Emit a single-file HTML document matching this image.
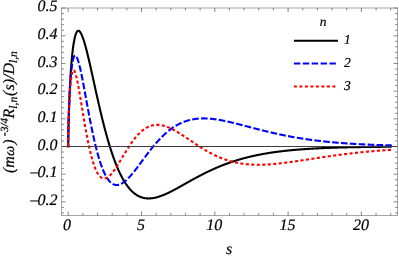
<!DOCTYPE html>
<html><head><meta charset="utf-8"><style>
html,body{margin:0;padding:0;background:#fff;}
svg{display:block;font-family:"Liberation Serif",serif;font-style:italic;text-rendering:geometricPrecision;}
svg{will-change:transform;}
text{stroke:#000;stroke-width:0.2px;}
</style></head><body>
<svg width="399" height="258" viewBox="0 0 399 258">
<rect width="399" height="258" fill="#fff"/>
<g fill="none" stroke-linejoin="round">
<path d="M68.20 146.50 L68.21 144.39 L68.22 143.15 L68.23 142.11 L68.24 141.17 L68.25 140.32 L68.26 139.52 L68.27 138.76 L68.28 138.05 L68.29 137.36 L68.30 136.69 L68.31 136.05 L68.32 135.43 L68.33 134.83 L68.34 134.24 L68.35 133.67 L68.36 133.11 L68.37 132.56 L68.38 132.03 L68.39 131.50 L68.40 130.99 L68.41 130.48 L68.42 129.99 L68.43 129.50 L68.44 129.02 L68.45 128.54 L68.46 128.07 L68.47 127.61 L68.48 127.16 L68.49 126.71 L68.57 123.66 L68.64 120.84 L68.71 118.19 L68.78 115.70 L68.85 113.33 L68.93 111.07 L69.00 108.90 L69.07 106.83 L69.14 104.83 L69.22 102.90 L69.29 101.04 L69.36 99.24 L69.43 97.50 L69.50 95.81 L69.58 94.17 L69.65 92.57 L69.72 91.02 L69.79 89.52 L69.86 88.05 L69.94 86.62 L70.01 85.22 L70.08 83.86 L70.15 82.54 L70.23 81.24 L70.30 79.98 L70.37 78.75 L70.44 77.54 L70.51 76.36 L70.59 75.21 L70.66 74.09 L70.73 72.99 L70.80 71.91 L70.88 70.86 L70.95 69.83 L71.02 68.82 L71.09 67.84 L71.16 66.87 L71.24 65.93 L71.31 65.00 L71.38 64.10 L71.45 63.21 L71.53 62.34 L71.60 61.50 L71.67 60.66 L71.74 59.85 L71.81 59.05 L71.89 58.27 L71.96 57.51 L72.03 56.76 L72.10 56.02 L72.18 55.31 L72.25 54.60 L72.32 53.92 L72.39 53.24 L72.46 52.58 L72.54 51.94 L72.61 51.30 L72.68 50.69 L72.75 50.08 L72.82 49.49 L72.90 48.91 L72.97 48.34 L73.04 47.78 L73.11 47.24 L73.19 46.71 L73.26 46.19 L73.33 45.68 L73.40 45.18 L73.47 44.70 L73.55 44.22 L73.62 43.76 L73.69 43.30 L73.76 42.86 L73.84 42.42 L73.91 42.00 L73.98 41.59 L74.05 41.18 L74.12 40.79 L74.20 40.41 L74.27 40.03 L74.34 39.67 L74.41 39.31 L74.49 38.96 L74.56 38.62 L74.63 38.29 L74.70 37.97 L74.77 37.66 L74.85 37.35 L74.92 37.06 L74.99 36.77 L75.06 36.49 L75.14 36.22 L75.21 35.95 L75.28 35.70 L75.35 35.45 L75.42 35.21 L75.50 34.97 L75.57 34.75 L75.64 34.53 L75.71 34.31 L75.78 34.11 L75.86 33.91 L75.93 33.72 L76.00 33.53 L76.07 33.36 L76.15 33.19 L76.22 33.02 L76.29 32.86 L76.36 32.71 L76.43 32.57 L76.51 32.43 L76.58 32.29 L76.65 32.17 L76.72 32.04 L76.80 31.93 L76.87 31.82 L76.94 31.72 L77.01 31.62 L77.08 31.53 L77.16 31.44 L77.23 31.36 L77.30 31.28 L77.37 31.21 L77.45 31.15 L77.52 31.09 L77.59 31.03 L77.66 30.98 L77.73 30.94 L77.81 30.90 L77.88 30.87 L77.95 30.84 L78.02 30.81 L78.10 30.79 L78.17 30.78 L78.24 30.77 L78.31 30.76 L78.38 30.76 L78.46 30.76 L78.53 30.77 L78.60 30.78 L78.67 30.80 L78.74 30.82 L78.82 30.84 L78.89 30.87 L78.96 30.91 L79.03 30.94 L79.11 30.99 L79.18 31.03 L79.25 31.08 L79.32 31.13 L79.39 31.19 L79.47 31.25 L79.54 31.32 L79.61 31.39 L79.68 31.46 L79.76 31.53 L79.83 31.61 L79.90 31.70 L79.97 31.78 L80.04 31.87 L80.12 31.97 L80.19 32.06 L80.26 32.16 L80.33 32.27 L80.41 32.38 L80.48 32.49 L80.55 32.60 L80.62 32.72 L80.69 32.84 L80.77 32.96 L80.84 33.08 L80.91 33.21 L80.98 33.35 L81.06 33.48 L81.13 33.62 L81.20 33.76 L81.27 33.90 L81.34 34.05 L81.42 34.20 L81.49 34.35 L81.56 34.51 L81.63 34.66 L81.70 34.82 L81.78 34.99 L81.85 35.15 L81.92 35.32 L81.99 35.49 L82.07 35.66 L82.14 35.84 L82.21 36.02 L82.28 36.20 L82.35 36.38 L82.43 36.57 L82.50 36.76 L82.57 36.95 L82.64 37.14 L82.72 37.33 L82.79 37.53 L82.86 37.73 L83.20 38.70 L83.55 39.73 L83.89 40.79 L84.23 41.90 L84.58 43.05 L84.92 44.23 L85.27 45.45 L85.61 46.70 L85.95 47.98 L86.30 49.29 L86.64 50.62 L86.98 51.98 L87.33 53.36 L87.67 54.76 L88.01 56.19 L88.36 57.63 L88.70 59.08 L89.04 60.55 L89.39 62.04 L89.73 63.54 L90.08 65.05 L90.42 66.56 L90.76 68.09 L91.11 69.63 L91.45 71.17 L91.79 72.72 L92.14 74.27 L92.48 75.82 L92.82 77.38 L93.17 78.94 L93.51 80.50 L93.85 82.07 L94.20 83.63 L94.54 85.19 L94.89 86.75 L95.23 88.31 L95.57 89.86 L95.92 91.41 L96.26 92.96 L96.60 94.50 L96.95 96.03 L97.29 97.56 L97.63 99.09 L97.98 100.60 L98.32 102.11 L98.67 103.61 L99.01 105.11 L99.35 106.59 L99.70 108.07 L100.04 109.54 L100.38 110.99 L100.73 112.44 L101.07 113.88 L101.41 115.31 L101.76 116.72 L102.10 118.13 L102.44 119.52 L102.79 120.91 L103.13 122.28 L103.48 123.64 L103.82 124.99 L104.16 126.32 L104.51 127.65 L104.85 128.96 L105.19 130.26 L105.54 131.54 L105.88 132.81 L106.22 134.07 L106.57 135.32 L106.91 136.55 L107.25 137.77 L107.60 138.98 L107.94 140.17 L108.29 141.35 L108.63 142.52 L108.97 143.67 L109.32 144.81 L109.66 145.93 L110.00 147.05 L110.35 148.14 L110.69 149.23 L111.03 150.30 L111.38 151.35 L111.72 152.39 L112.07 153.42 L112.41 154.44 L112.75 155.44 L113.10 156.43 L113.44 157.40 L113.78 158.36 L114.13 159.31 L114.47 160.24 L114.81 161.16 L115.16 162.06 L115.50 162.95 L115.84 163.83 L116.19 164.70 L116.53 165.55 L116.88 166.39 L117.22 167.21 L117.56 168.02 L117.91 168.82 L118.25 169.61 L118.59 170.38 L118.94 171.14 L119.28 171.88 L119.62 172.62 L119.97 173.34 L120.31 174.05 L120.65 174.74 L121.00 175.43 L121.34 176.10 L121.69 176.76 L122.03 177.40 L122.37 178.04 L122.72 178.66 L123.06 179.27 L123.40 179.87 L123.75 180.46 L124.09 181.04 L124.43 181.60 L124.78 182.15 L125.12 182.69 L125.46 183.22 L125.81 183.74 L126.15 184.25 L126.50 184.75 L126.84 185.23 L127.18 185.71 L127.53 186.17 L127.87 186.63 L128.21 187.07 L128.56 187.51 L128.90 187.93 L129.24 188.34 L129.59 188.74 L129.93 189.14 L130.28 189.52 L130.62 189.90 L130.96 190.26 L131.31 190.61 L131.65 190.96 L131.99 191.30 L132.34 191.62 L132.68 191.94 L133.02 192.25 L133.37 192.55 L133.71 192.84 L134.05 193.12 L134.40 193.39 L134.74 193.66 L135.09 193.92 L135.43 194.17 L135.77 194.41 L136.12 194.64 L136.46 194.86 L136.80 195.08 L137.15 195.29 L137.49 195.49 L137.83 195.68 L138.18 195.87 L138.52 196.05 L138.86 196.22 L139.21 196.38 L139.55 196.54 L139.90 196.69 L140.24 196.83 L140.58 196.97 L140.93 197.10 L141.27 197.22 L141.61 197.34 L141.96 197.45 L142.30 197.55 L142.64 197.65 L142.99 197.74 L143.33 197.83 L143.68 197.91 L144.02 197.98 L144.36 198.05 L144.71 198.11 L145.05 198.17 L145.39 198.22 L145.74 198.26 L146.08 198.30 L146.42 198.34 L146.77 198.36 L147.11 198.39 L147.45 198.41 L147.80 198.42 L148.14 198.43 L148.49 198.44 L148.83 198.44 L149.17 198.43 L149.52 198.42 L149.86 198.41 L150.20 198.39 L150.55 198.37 L150.89 198.34 L151.23 198.31 L151.58 198.27 L151.92 198.23 L152.26 198.19 L152.61 198.14 L152.95 198.09 L153.30 198.03 L153.64 197.97 L153.98 197.91 L154.33 197.85 L154.67 197.78 L155.01 197.70 L155.36 197.63 L155.70 197.55 L156.04 197.46 L156.39 197.38 L156.73 197.29 L157.08 197.19 L157.42 197.10 L157.76 197.00 L158.11 196.90 L158.45 196.80 L158.79 196.69 L159.14 196.58 L159.48 196.47 L159.82 196.35 L160.17 196.23 L160.51 196.11 L160.85 195.99 L161.20 195.87 L161.54 195.74 L161.89 195.61 L162.23 195.48 L162.57 195.34 L162.92 195.21 L163.26 195.07 L163.60 194.93 L163.95 194.79 L164.29 194.64 L164.63 194.50 L164.98 194.35 L165.32 194.20 L165.66 194.05 L166.01 193.89 L166.35 193.74 L166.70 193.58 L167.04 193.43 L167.38 193.27 L167.73 193.11 L168.07 192.94 L168.41 192.78 L168.76 192.61 L169.10 192.45 L169.44 192.28 L169.79 192.11 L170.13 191.94 L170.48 191.77 L170.82 191.60 L171.16 191.42 L171.51 191.25 L171.85 191.07 L172.19 190.89 L172.54 190.72 L172.88 190.54 L173.22 190.36 L173.57 190.18 L173.91 190.00 L174.25 189.81 L174.60 189.63 L174.94 189.45 L175.29 189.26 L175.63 189.08 L175.97 188.89 L176.32 188.71 L176.66 188.52 L177.00 188.33 L177.35 188.14 L177.69 187.96 L178.03 187.77 L178.38 187.58 L178.72 187.39 L179.06 187.20 L179.41 187.01 L179.75 186.82 L180.10 186.62 L180.44 186.43 L180.78 186.24 L181.13 186.05 L181.47 185.86 L181.81 185.66 L182.16 185.47 L182.50 185.28 L182.84 185.08 L183.19 184.89 L183.53 184.70 L183.88 184.50 L184.22 184.31 L184.56 184.12 L184.91 183.92 L185.25 183.73 L185.59 183.54 L185.94 183.34 L186.28 183.15 L186.62 182.96 L186.97 182.76 L187.31 182.57 L187.65 182.38 L188.00 182.19 L188.34 181.99 L188.69 181.80 L189.03 181.61 L189.37 181.42 L189.72 181.22 L190.06 181.03 L190.40 180.84 L190.75 180.65 L191.09 180.46 L191.43 180.27 L191.78 180.08 L192.12 179.89 L192.46 179.70 L192.81 179.51 L193.15 179.32 L193.50 179.13 L193.84 178.94 L194.18 178.76 L194.53 178.57 L194.87 178.38 L195.21 178.19 L195.56 178.01 L195.90 177.82 L196.24 177.64 L196.59 177.45 L196.93 177.27 L197.28 177.08 L197.62 176.90 L197.96 176.72 L198.31 176.54 L198.65 176.35 L198.99 176.17 L199.34 175.99 L199.68 175.81 L200.02 175.63 L200.37 175.45 L200.71 175.27 L201.05 175.09 L201.40 174.92 L201.74 174.74 L202.09 174.56 L202.43 174.39 L202.77 174.21 L203.12 174.04 L203.46 173.86 L203.80 173.69 L204.15 173.52 L204.49 173.35 L204.83 173.17 L205.18 173.00 L205.52 172.83 L205.86 172.66 L206.21 172.49 L206.55 172.33 L206.90 172.16 L207.24 171.99 L207.58 171.83 L207.93 171.66 L208.27 171.50 L208.61 171.33 L208.96 171.17 L209.30 171.00 L209.64 170.84 L209.99 170.68 L210.33 170.52 L210.67 170.36 L211.02 170.20 L211.36 170.04 L211.71 169.88 L212.05 169.73 L212.39 169.57 L212.74 169.41 L213.08 169.26 L213.42 169.10 L213.77 168.95 L214.11 168.80 L214.45 168.65 L214.80 168.49 L215.14 168.34 L215.49 168.19 L215.83 168.04 L216.17 167.90 L216.52 167.75 L216.86 167.60 L217.20 167.45 L217.55 167.31 L217.89 167.16 L218.23 167.02 L218.58 166.87 L218.92 166.73 L219.26 166.59 L219.61 166.45 L219.95 166.31 L220.30 166.17 L220.64 166.03 L220.98 165.89 L221.33 165.75 L221.67 165.62 L222.01 165.48 L222.36 165.34 L222.70 165.21 L223.04 165.08 L223.39 164.94 L223.73 164.81 L224.07 164.68 L224.42 164.55 L224.76 164.42 L225.11 164.29 L225.45 164.16 L225.79 164.03 L226.14 163.90 L226.48 163.77 L226.82 163.65 L227.17 163.52 L227.51 163.40 L227.85 163.27 L228.20 163.15 L228.54 163.03 L228.89 162.91 L229.23 162.79 L229.57 162.67 L229.92 162.55 L230.26 162.43 L230.60 162.31 L230.95 162.19 L231.29 162.07 L231.63 161.96 L231.98 161.84 L232.32 161.73 L232.66 161.61 L233.01 161.50 L233.35 161.39 L233.70 161.28 L234.04 161.17 L234.38 161.05 L234.73 160.94 L235.07 160.84 L235.41 160.73 L235.76 160.62 L236.10 160.51 L236.44 160.41 L236.79 160.30 L237.13 160.19 L237.47 160.09 L237.82 159.99 L238.16 159.88 L238.51 159.78 L238.85 159.68 L239.19 159.58 L239.54 159.48 L239.88 159.38 L240.22 159.28 L240.57 159.18 L240.91 159.08 L241.25 158.98 L241.60 158.89 L241.94 158.79 L242.29 158.69 L242.63 158.60 L242.97 158.51 L243.32 158.41 L243.66 158.32 L244.00 158.23 L244.35 158.14 L244.69 158.04 L245.03 157.95 L245.38 157.86 L245.72 157.77 L246.06 157.69 L246.41 157.60 L246.75 157.51 L247.10 157.42 L247.44 157.34 L247.78 157.25 L248.13 157.17 L248.47 157.08 L248.81 157.00 L249.16 156.91 L249.50 156.83 L249.84 156.75 L250.19 156.67 L250.53 156.59 L250.87 156.51 L251.22 156.43 L251.56 156.35 L251.91 156.27 L252.25 156.19 L252.59 156.11 L252.94 156.03 L253.28 155.96 L253.62 155.88 L253.97 155.81 L254.31 155.73 L254.65 155.66 L255.00 155.58 L255.34 155.51 L255.69 155.44 L256.03 155.36 L256.37 155.29 L256.72 155.22 L257.06 155.15 L257.40 155.08 L257.75 155.01 L258.09 154.94 L258.43 154.87 L258.78 154.80 L259.12 154.73 L259.46 154.67 L259.81 154.60 L260.15 154.53 L260.50 154.47 L260.84 154.40 L261.18 154.34 L261.53 154.27 L261.87 154.21 L262.21 154.15 L262.56 154.08 L262.90 154.02 L263.24 153.96 L263.59 153.90 L263.93 153.83 L264.27 153.77 L264.62 153.71 L264.96 153.65 L265.31 153.59 L265.65 153.54 L265.99 153.48 L266.34 153.42 L266.68 153.36 L267.02 153.30 L267.37 153.25 L267.71 153.19 L268.05 153.14 L268.40 153.08 L268.74 153.02 L269.09 152.97 L269.43 152.92 L269.77 152.86 L270.12 152.81 L270.46 152.76 L270.80 152.70 L271.15 152.65 L271.49 152.60 L271.83 152.55 L272.18 152.50 L272.52 152.45 L272.86 152.40 L273.21 152.35 L273.55 152.30 L273.90 152.25 L274.24 152.20 L274.58 152.15 L274.93 152.10 L275.27 152.05 L275.61 152.01 L275.96 151.96 L276.30 151.91 L276.64 151.87 L276.99 151.82 L277.33 151.78 L277.67 151.73 L278.02 151.69 L278.36 151.64 L278.71 151.60 L279.05 151.56 L279.39 151.51 L279.74 151.47 L280.08 151.43 L280.42 151.38 L280.77 151.34 L281.11 151.30 L281.45 151.26 L281.80 151.22 L282.14 151.18 L282.49 151.14 L282.83 151.10 L283.17 151.06 L283.52 151.02 L283.86 150.98 L284.20 150.94 L284.55 150.90 L284.89 150.86 L285.23 150.83 L285.58 150.79 L285.92 150.75 L286.26 150.72 L286.61 150.68 L286.95 150.64 L287.30 150.61 L287.64 150.57 L287.98 150.54 L288.33 150.50 L288.67 150.47 L289.01 150.43 L289.36 150.40 L289.70 150.36 L290.04 150.33 L290.39 150.30 L290.73 150.26 L291.07 150.23 L291.42 150.20 L291.76 150.16 L292.11 150.13 L292.45 150.10 L292.79 150.07 L293.14 150.04 L293.48 150.01 L293.82 149.98 L294.17 149.94 L294.51 149.91 L294.85 149.88 L295.20 149.85 L295.54 149.82 L295.88 149.80 L296.23 149.77 L296.57 149.74 L296.92 149.71 L297.26 149.68 L297.60 149.65 L297.95 149.62 L298.29 149.60 L298.63 149.57 L298.98 149.54 L299.32 149.52 L299.66 149.49 L300.01 149.46 L300.35 149.44 L300.70 149.41 L301.04 149.38 L301.38 149.36 L301.73 149.33 L302.07 149.31 L302.41 149.28 L302.76 149.26 L303.10 149.23 L303.44 149.21 L303.79 149.18 L304.13 149.16 L304.47 149.14 L304.82 149.11 L305.16 149.09 L305.51 149.07 L305.85 149.04 L306.19 149.02 L306.54 149.00 L306.88 148.98 L307.22 148.95 L307.57 148.93 L307.91 148.91 L308.25 148.89 L308.60 148.87 L308.94 148.85 L309.28 148.82 L309.63 148.80 L309.97 148.78 L310.32 148.76 L310.66 148.74 L311.00 148.72 L311.35 148.70 L311.69 148.68 L312.03 148.66 L312.38 148.64 L312.72 148.62 L313.06 148.60 L313.41 148.58 L313.75 148.57 L314.10 148.55 L314.44 148.53 L314.78 148.51 L315.13 148.49 L315.47 148.47 L315.81 148.46 L316.16 148.44 L316.50 148.42 L316.84 148.40 L317.19 148.39 L317.53 148.37 L317.87 148.35 L318.22 148.33 L318.56 148.32 L318.91 148.30 L319.25 148.29 L319.59 148.27 L319.94 148.25 L320.28 148.24 L320.62 148.22 L320.97 148.21 L321.31 148.19 L321.65 148.17 L322.00 148.16 L322.34 148.14 L322.68 148.13 L323.03 148.11 L323.37 148.10 L323.72 148.08 L324.06 148.07 L324.40 148.06 L324.75 148.04 L325.09 148.03 L325.43 148.01 L325.78 148.00 L326.12 147.99 L326.46 147.97 L326.81 147.96 L327.15 147.94 L327.50 147.93 L327.84 147.92 L328.18 147.90 L328.53 147.89 L328.87 147.88 L329.21 147.87 L329.56 147.85 L329.90 147.84 L330.24 147.83 L330.59 147.82 L330.93 147.80 L331.27 147.79 L331.62 147.78 L331.96 147.77 L332.31 147.76 L332.65 147.75 L332.99 147.73 L333.34 147.72 L333.68 147.71 L334.02 147.70 L334.37 147.69 L334.71 147.68 L335.05 147.67 L335.40 147.66 L335.74 147.64 L336.08 147.63 L336.43 147.62 L336.77 147.61 L337.12 147.60 L337.46 147.59 L337.80 147.58 L338.15 147.57 L338.49 147.56 L338.83 147.55 L339.18 147.54 L339.52 147.53 L339.86 147.52 L340.21 147.51 L340.55 147.50 L340.90 147.49 L341.24 147.49 L341.58 147.48 L341.93 147.47 L342.27 147.46 L342.61 147.45 L342.96 147.44 L343.30 147.43 L343.64 147.42 L343.99 147.41 L344.33 147.41 L344.67 147.40 L345.02 147.39 L345.36 147.38 L345.71 147.37 L346.05 147.36 L346.39 147.36 L346.74 147.35 L347.08 147.34 L347.42 147.33 L347.77 147.32 L348.11 147.32 L348.45 147.31 L348.80 147.30 L349.14 147.29 L349.48 147.29 L349.83 147.28 L350.17 147.27 L350.52 147.26 L350.86 147.26 L351.20 147.25 L351.55 147.24 L351.89 147.24 L352.23 147.23 L352.58 147.22 L352.92 147.21 L353.26 147.21 L353.61 147.20 L353.95 147.19 L354.30 147.19 L354.64 147.18 L354.98 147.18 L355.33 147.17 L355.67 147.16 L356.01 147.16 L356.36 147.15 L356.70 147.14 L357.04 147.14 L357.39 147.13 L357.73 147.13 L358.07 147.12 L358.42 147.11 L358.76 147.11 L359.11 147.10 L359.45 147.10 L359.79 147.09 L360.14 147.09 L360.48 147.08 L360.82 147.07 L361.17 147.07 L361.51 147.06 L361.85 147.06 L362.20 147.05 L362.54 147.05 L362.88 147.04 L363.23 147.04 L363.57 147.03 L363.92 147.03 L364.26 147.02 L364.60 147.02 L364.95 147.01 L365.29 147.01 L365.63 147.00 L365.98 147.00 L366.32 146.99 L366.66 146.99 L367.01 146.98 L367.35 146.98 L367.69 146.97 L368.04 146.97 L368.38 146.96 L368.73 146.96 L369.07 146.96 L369.41 146.95 L369.76 146.95 L370.10 146.94 L370.44 146.94 L370.79 146.93 L371.13 146.93 L371.47 146.93 L371.82 146.92 L372.16 146.92 L372.51 146.91 L372.85 146.91 L373.19 146.91 L373.54 146.90 L373.88 146.90 L374.22 146.89 L374.57 146.89 L374.91 146.89 L375.25 146.88 L375.60 146.88 L375.94 146.88 L376.28 146.87 L376.63 146.87 L376.97 146.87 L377.32 146.86 L377.66 146.86 L378.00 146.85 L378.35 146.85 L378.69 146.85 L379.03 146.84 L379.38 146.84 L379.72 146.84 L380.06 146.83 L380.41 146.83 L380.75 146.83 L381.09 146.83 L381.44 146.82 L381.78 146.82 L382.13 146.82 L382.47 146.81 L382.81 146.81 L383.16 146.81 L383.50 146.80 L383.84 146.80 L384.19 146.80 L384.53 146.79 L384.87 146.79 L385.22 146.79 L385.56 146.79 L385.91 146.78 L386.25 146.78 L386.59 146.78 L386.94 146.78 L387.28 146.77 L387.62 146.77 L387.97 146.77 L388.31 146.76 L388.65 146.76 L389.00 146.76 L389.34 146.76 L389.68 146.75 L390.03 146.75 L390.37 146.75 L390.72 146.75 L391.06 146.75 L391.40 146.74 L391.75 146.74" stroke="#000" stroke-width="2.1"/>
<path d="M68.20 146.50 L68.21 144.39 L68.22 143.15 L68.23 142.11 L68.24 141.18 L68.25 140.33 L68.26 139.53 L68.27 138.78 L68.28 138.06 L68.29 137.38 L68.30 136.72 L68.31 136.08 L68.32 135.47 L68.33 134.87 L68.34 134.28 L68.35 133.72 L68.36 133.16 L68.37 132.62 L68.38 132.09 L68.39 131.57 L68.40 131.06 L68.41 130.57 L68.42 130.07 L68.43 129.59 L68.44 129.12 L68.45 128.65 L68.46 128.19 L68.47 127.74 L68.48 127.29 L68.49 126.85 L68.57 123.86 L68.64 121.11 L68.71 118.54 L68.78 116.13 L68.85 113.85 L68.93 111.69 L69.00 109.63 L69.07 107.66 L69.14 105.78 L69.22 103.97 L69.29 102.24 L69.36 100.57 L69.43 98.96 L69.50 97.41 L69.58 95.91 L69.65 94.47 L69.72 93.07 L69.79 91.72 L69.86 90.41 L69.94 89.14 L70.01 87.92 L70.08 86.73 L70.15 85.58 L70.23 84.46 L70.30 83.38 L70.37 82.33 L70.44 81.31 L70.51 80.32 L70.59 79.37 L70.66 78.44 L70.73 77.53 L70.80 76.66 L70.88 75.81 L70.95 74.98 L71.02 74.18 L71.09 73.41 L71.16 72.65 L71.24 71.92 L71.31 71.22 L71.38 70.53 L71.45 69.86 L71.53 69.22 L71.60 68.59 L71.67 67.99 L71.74 67.40 L71.81 66.83 L71.89 66.28 L71.96 65.75 L72.03 65.23 L72.10 64.73 L72.18 64.25 L72.25 63.79 L72.32 63.34 L72.39 62.91 L72.46 62.49 L72.54 62.08 L72.61 61.69 L72.68 61.32 L72.75 60.96 L72.82 60.61 L72.90 60.28 L72.97 59.96 L73.04 59.66 L73.11 59.36 L73.19 59.08 L73.26 58.81 L73.33 58.56 L73.40 58.31 L73.47 58.08 L73.55 57.86 L73.62 57.65 L73.69 57.45 L73.76 57.26 L73.84 57.09 L73.91 56.92 L73.98 56.76 L74.05 56.62 L74.12 56.48 L74.20 56.36 L74.27 56.24 L74.34 56.13 L74.41 56.04 L74.49 55.95 L74.56 55.87 L74.63 55.80 L74.70 55.74 L74.77 55.68 L74.85 55.64 L74.92 55.60 L74.99 55.58 L75.06 55.56 L75.14 55.54 L75.21 55.54 L75.28 55.54 L75.35 55.55 L75.42 55.57 L75.50 55.60 L75.57 55.63 L75.64 55.67 L75.71 55.72 L75.78 55.77 L75.86 55.83 L75.93 55.90 L76.00 55.97 L76.07 56.05 L76.15 56.14 L76.22 56.23 L76.29 56.33 L76.36 56.44 L76.43 56.55 L76.51 56.66 L76.58 56.79 L76.65 56.91 L76.72 57.05 L76.80 57.19 L76.87 57.33 L76.94 57.48 L77.01 57.63 L77.08 57.79 L77.16 57.96 L77.23 58.13 L77.30 58.30 L77.37 58.48 L77.45 58.67 L77.52 58.86 L77.59 59.05 L77.66 59.25 L77.73 59.45 L77.81 59.66 L77.88 59.87 L77.95 60.08 L78.02 60.30 L78.10 60.52 L78.17 60.75 L78.24 60.98 L78.31 61.22 L78.38 61.46 L78.46 61.70 L78.53 61.95 L78.60 62.20 L78.67 62.45 L78.74 62.71 L78.82 62.97 L78.89 63.23 L78.96 63.50 L79.03 63.77 L79.11 64.04 L79.18 64.32 L79.25 64.60 L79.32 64.88 L79.39 65.16 L79.47 65.45 L79.54 65.74 L79.61 66.04 L79.68 66.34 L79.76 66.63 L79.83 66.94 L79.90 67.24 L79.97 67.55 L80.04 67.86 L80.12 68.17 L80.19 68.49 L80.26 68.80 L80.33 69.12 L80.41 69.44 L80.48 69.77 L80.55 70.10 L80.62 70.42 L80.69 70.75 L80.77 71.09 L80.84 71.42 L80.91 71.76 L80.98 72.10 L81.06 72.44 L81.13 72.78 L81.20 73.12 L81.27 73.47 L81.34 73.82 L81.42 74.16 L81.49 74.52 L81.56 74.87 L81.63 75.22 L81.70 75.58 L81.78 75.93 L81.85 76.29 L81.92 76.65 L81.99 77.01 L82.07 77.38 L82.14 77.74 L82.21 78.11 L82.28 78.47 L82.35 78.84 L82.43 79.21 L82.50 79.58 L82.57 79.95 L82.64 80.32 L82.72 80.70 L82.79 81.07 L82.86 81.45 L83.20 83.25 L83.55 85.07 L83.89 86.91 L84.23 88.76 L84.58 90.62 L84.92 92.49 L85.27 94.36 L85.61 96.24 L85.95 98.12 L86.30 100.00 L86.64 101.88 L86.98 103.75 L87.33 105.62 L87.67 107.48 L88.01 109.33 L88.36 111.17 L88.70 113.00 L89.04 114.82 L89.39 116.62 L89.73 118.41 L90.08 120.18 L90.42 121.94 L90.76 123.67 L91.11 125.39 L91.45 127.09 L91.79 128.77 L92.14 130.42 L92.48 132.06 L92.82 133.67 L93.17 135.26 L93.51 136.83 L93.85 138.37 L94.20 139.89 L94.54 141.38 L94.89 142.85 L95.23 144.29 L95.57 145.71 L95.92 147.10 L96.26 148.47 L96.60 149.81 L96.95 151.12 L97.29 152.41 L97.63 153.67 L97.98 154.90 L98.32 156.11 L98.67 157.29 L99.01 158.44 L99.35 159.56 L99.70 160.66 L100.04 161.73 L100.38 162.78 L100.73 163.80 L101.07 164.79 L101.41 165.75 L101.76 166.69 L102.10 167.60 L102.44 168.49 L102.79 169.35 L103.13 170.18 L103.48 170.99 L103.82 171.77 L104.16 172.53 L104.51 173.26 L104.85 173.97 L105.19 174.65 L105.54 175.31 L105.88 175.94 L106.22 176.55 L106.57 177.14 L106.91 177.70 L107.25 178.24 L107.60 178.75 L107.94 179.25 L108.29 179.72 L108.63 180.16 L108.97 180.59 L109.32 180.99 L109.66 181.38 L110.00 181.74 L110.35 182.08 L110.69 182.40 L111.03 182.70 L111.38 182.98 L111.72 183.24 L112.07 183.48 L112.41 183.71 L112.75 183.91 L113.10 184.09 L113.44 184.26 L113.78 184.41 L114.13 184.54 L114.47 184.65 L114.81 184.75 L115.16 184.83 L115.50 184.89 L115.84 184.94 L116.19 184.97 L116.53 184.99 L116.88 184.99 L117.22 184.98 L117.56 184.95 L117.91 184.91 L118.25 184.85 L118.59 184.78 L118.94 184.70 L119.28 184.60 L119.62 184.49 L119.97 184.37 L120.31 184.23 L120.65 184.08 L121.00 183.92 L121.34 183.75 L121.69 183.57 L122.03 183.38 L122.37 183.18 L122.72 182.96 L123.06 182.74 L123.40 182.50 L123.75 182.26 L124.09 182.01 L124.43 181.74 L124.78 181.47 L125.12 181.19 L125.46 180.90 L125.81 180.61 L126.15 180.30 L126.50 179.99 L126.84 179.67 L127.18 179.34 L127.53 179.01 L127.87 178.67 L128.21 178.32 L128.56 177.96 L128.90 177.60 L129.24 177.24 L129.59 176.87 L129.93 176.49 L130.28 176.11 L130.62 175.72 L130.96 175.32 L131.31 174.93 L131.65 174.52 L131.99 174.12 L132.34 173.71 L132.68 173.29 L133.02 172.87 L133.37 172.45 L133.71 172.02 L134.05 171.59 L134.40 171.16 L134.74 170.73 L135.09 170.29 L135.43 169.85 L135.77 169.40 L136.12 168.96 L136.46 168.51 L136.80 168.06 L137.15 167.61 L137.49 167.15 L137.83 166.70 L138.18 166.24 L138.52 165.78 L138.86 165.32 L139.21 164.86 L139.55 164.40 L139.90 163.94 L140.24 163.48 L140.58 163.02 L140.93 162.55 L141.27 162.09 L141.61 161.62 L141.96 161.16 L142.30 160.70 L142.64 160.23 L142.99 159.77 L143.33 159.30 L143.68 158.84 L144.02 158.38 L144.36 157.92 L144.71 157.46 L145.05 157.00 L145.39 156.54 L145.74 156.08 L146.08 155.62 L146.42 155.17 L146.77 154.71 L147.11 154.26 L147.45 153.81 L147.80 153.36 L148.14 152.91 L148.49 152.46 L148.83 152.01 L149.17 151.57 L149.52 151.13 L149.86 150.69 L150.20 150.25 L150.55 149.82 L150.89 149.38 L151.23 148.95 L151.58 148.52 L151.92 148.09 L152.26 147.67 L152.61 147.25 L152.95 146.83 L153.30 146.41 L153.64 146.00 L153.98 145.58 L154.33 145.17 L154.67 144.77 L155.01 144.36 L155.36 143.96 L155.70 143.56 L156.04 143.17 L156.39 142.77 L156.73 142.38 L157.08 142.00 L157.42 141.61 L157.76 141.23 L158.11 140.85 L158.45 140.48 L158.79 140.11 L159.14 139.74 L159.48 139.37 L159.82 139.01 L160.17 138.65 L160.51 138.29 L160.85 137.94 L161.20 137.59 L161.54 137.24 L161.89 136.90 L162.23 136.56 L162.57 136.22 L162.92 135.89 L163.26 135.56 L163.60 135.23 L163.95 134.91 L164.29 134.59 L164.63 134.27 L164.98 133.96 L165.32 133.65 L165.66 133.34 L166.01 133.04 L166.35 132.74 L166.70 132.44 L167.04 132.15 L167.38 131.86 L167.73 131.57 L168.07 131.29 L168.41 131.01 L168.76 130.74 L169.10 130.46 L169.44 130.19 L169.79 129.93 L170.13 129.67 L170.48 129.41 L170.82 129.15 L171.16 128.90 L171.51 128.65 L171.85 128.41 L172.19 128.16 L172.54 127.93 L172.88 127.69 L173.22 127.46 L173.57 127.23 L173.91 127.01 L174.25 126.78 L174.60 126.56 L174.94 126.35 L175.29 126.14 L175.63 125.93 L175.97 125.72 L176.32 125.52 L176.66 125.32 L177.00 125.13 L177.35 124.94 L177.69 124.75 L178.03 124.56 L178.38 124.38 L178.72 124.20 L179.06 124.02 L179.41 123.85 L179.75 123.68 L180.10 123.51 L180.44 123.35 L180.78 123.19 L181.13 123.03 L181.47 122.87 L181.81 122.72 L182.16 122.57 L182.50 122.43 L182.84 122.28 L183.19 122.14 L183.53 122.01 L183.88 121.87 L184.22 121.74 L184.56 121.61 L184.91 121.49 L185.25 121.37 L185.59 121.25 L185.94 121.13 L186.28 121.02 L186.62 120.91 L186.97 120.80 L187.31 120.69 L187.65 120.59 L188.00 120.49 L188.34 120.39 L188.69 120.29 L189.03 120.20 L189.37 120.11 L189.72 120.03 L190.06 119.94 L190.40 119.86 L190.75 119.78 L191.09 119.70 L191.43 119.63 L191.78 119.55 L192.12 119.48 L192.46 119.42 L192.81 119.35 L193.15 119.29 L193.50 119.23 L193.84 119.17 L194.18 119.12 L194.53 119.06 L194.87 119.01 L195.21 118.96 L195.56 118.92 L195.90 118.87 L196.24 118.83 L196.59 118.79 L196.93 118.75 L197.28 118.72 L197.62 118.68 L197.96 118.65 L198.31 118.62 L198.65 118.59 L198.99 118.57 L199.34 118.54 L199.68 118.52 L200.02 118.50 L200.37 118.49 L200.71 118.47 L201.05 118.46 L201.40 118.44 L201.74 118.43 L202.09 118.43 L202.43 118.42 L202.77 118.41 L203.12 118.41 L203.46 118.41 L203.80 118.41 L204.15 118.41 L204.49 118.42 L204.83 118.42 L205.18 118.43 L205.52 118.44 L205.86 118.45 L206.21 118.46 L206.55 118.47 L206.90 118.49 L207.24 118.51 L207.58 118.52 L207.93 118.54 L208.27 118.57 L208.61 118.59 L208.96 118.61 L209.30 118.64 L209.64 118.66 L209.99 118.69 L210.33 118.72 L210.67 118.75 L211.02 118.78 L211.36 118.82 L211.71 118.85 L212.05 118.89 L212.39 118.92 L212.74 118.96 L213.08 119.00 L213.42 119.04 L213.77 119.09 L214.11 119.13 L214.45 119.17 L214.80 119.22 L215.14 119.26 L215.49 119.31 L215.83 119.36 L216.17 119.41 L216.52 119.46 L216.86 119.51 L217.20 119.57 L217.55 119.62 L217.89 119.67 L218.23 119.73 L218.58 119.79 L218.92 119.84 L219.26 119.90 L219.61 119.96 L219.95 120.02 L220.30 120.08 L220.64 120.14 L220.98 120.21 L221.33 120.27 L221.67 120.33 L222.01 120.40 L222.36 120.46 L222.70 120.53 L223.04 120.60 L223.39 120.67 L223.73 120.74 L224.07 120.80 L224.42 120.87 L224.76 120.95 L225.11 121.02 L225.45 121.09 L225.79 121.16 L226.14 121.23 L226.48 121.31 L226.82 121.38 L227.17 121.46 L227.51 121.53 L227.85 121.61 L228.20 121.69 L228.54 121.76 L228.89 121.84 L229.23 121.92 L229.57 122.00 L229.92 122.08 L230.26 122.16 L230.60 122.24 L230.95 122.32 L231.29 122.40 L231.63 122.48 L231.98 122.56 L232.32 122.65 L232.66 122.73 L233.01 122.81 L233.35 122.89 L233.70 122.98 L234.04 123.06 L234.38 123.15 L234.73 123.23 L235.07 123.32 L235.41 123.40 L235.76 123.49 L236.10 123.57 L236.44 123.66 L236.79 123.75 L237.13 123.83 L237.47 123.92 L237.82 124.01 L238.16 124.09 L238.51 124.18 L238.85 124.27 L239.19 124.36 L239.54 124.45 L239.88 124.53 L240.22 124.62 L240.57 124.71 L240.91 124.80 L241.25 124.89 L241.60 124.98 L241.94 125.07 L242.29 125.16 L242.63 125.25 L242.97 125.34 L243.32 125.43 L243.66 125.52 L244.00 125.61 L244.35 125.70 L244.69 125.79 L245.03 125.88 L245.38 125.97 L245.72 126.06 L246.06 126.15 L246.41 126.24 L246.75 126.33 L247.10 126.42 L247.44 126.51 L247.78 126.60 L248.13 126.69 L248.47 126.78 L248.81 126.87 L249.16 126.96 L249.50 127.05 L249.84 127.14 L250.19 127.23 L250.53 127.32 L250.87 127.41 L251.22 127.50 L251.56 127.59 L251.91 127.68 L252.25 127.77 L252.59 127.86 L252.94 127.95 L253.28 128.04 L253.62 128.13 L253.97 128.22 L254.31 128.31 L254.65 128.40 L255.00 128.49 L255.34 128.58 L255.69 128.67 L256.03 128.76 L256.37 128.84 L256.72 128.93 L257.06 129.02 L257.40 129.11 L257.75 129.20 L258.09 129.29 L258.43 129.37 L258.78 129.46 L259.12 129.55 L259.46 129.64 L259.81 129.72 L260.15 129.81 L260.50 129.90 L260.84 129.99 L261.18 130.07 L261.53 130.16 L261.87 130.24 L262.21 130.33 L262.56 130.42 L262.90 130.50 L263.24 130.59 L263.59 130.67 L263.93 130.76 L264.27 130.84 L264.62 130.93 L264.96 131.01 L265.31 131.10 L265.65 131.18 L265.99 131.26 L266.34 131.35 L266.68 131.43 L267.02 131.51 L267.37 131.60 L267.71 131.68 L268.05 131.76 L268.40 131.84 L268.74 131.93 L269.09 132.01 L269.43 132.09 L269.77 132.17 L270.12 132.25 L270.46 132.33 L270.80 132.41 L271.15 132.49 L271.49 132.57 L271.83 132.65 L272.18 132.73 L272.52 132.81 L272.86 132.89 L273.21 132.97 L273.55 133.05 L273.90 133.12 L274.24 133.20 L274.58 133.28 L274.93 133.36 L275.27 133.43 L275.61 133.51 L275.96 133.59 L276.30 133.66 L276.64 133.74 L276.99 133.81 L277.33 133.89 L277.67 133.96 L278.02 134.04 L278.36 134.11 L278.71 134.19 L279.05 134.26 L279.39 134.33 L279.74 134.41 L280.08 134.48 L280.42 134.55 L280.77 134.63 L281.11 134.70 L281.45 134.77 L281.80 134.84 L282.14 134.91 L282.49 134.98 L282.83 135.05 L283.17 135.12 L283.52 135.19 L283.86 135.26 L284.20 135.33 L284.55 135.40 L284.89 135.47 L285.23 135.54 L285.58 135.61 L285.92 135.68 L286.26 135.74 L286.61 135.81 L286.95 135.88 L287.30 135.95 L287.64 136.01 L287.98 136.08 L288.33 136.14 L288.67 136.21 L289.01 136.27 L289.36 136.34 L289.70 136.40 L290.04 136.47 L290.39 136.53 L290.73 136.60 L291.07 136.66 L291.42 136.72 L291.76 136.79 L292.11 136.85 L292.45 136.91 L292.79 136.97 L293.14 137.03 L293.48 137.10 L293.82 137.16 L294.17 137.22 L294.51 137.28 L294.85 137.34 L295.20 137.40 L295.54 137.46 L295.88 137.52 L296.23 137.58 L296.57 137.63 L296.92 137.69 L297.26 137.75 L297.60 137.81 L297.95 137.87 L298.29 137.92 L298.63 137.98 L298.98 138.04 L299.32 138.09 L299.66 138.15 L300.01 138.21 L300.35 138.26 L300.70 138.32 L301.04 138.37 L301.38 138.43 L301.73 138.48 L302.07 138.53 L302.41 138.59 L302.76 138.64 L303.10 138.69 L303.44 138.75 L303.79 138.80 L304.13 138.85 L304.47 138.90 L304.82 138.96 L305.16 139.01 L305.51 139.06 L305.85 139.11 L306.19 139.16 L306.54 139.21 L306.88 139.26 L307.22 139.31 L307.57 139.36 L307.91 139.41 L308.25 139.46 L308.60 139.51 L308.94 139.55 L309.28 139.60 L309.63 139.65 L309.97 139.70 L310.32 139.74 L310.66 139.79 L311.00 139.84 L311.35 139.88 L311.69 139.93 L312.03 139.98 L312.38 140.02 L312.72 140.07 L313.06 140.11 L313.41 140.16 L313.75 140.20 L314.10 140.25 L314.44 140.29 L314.78 140.34 L315.13 140.38 L315.47 140.42 L315.81 140.47 L316.16 140.51 L316.50 140.55 L316.84 140.59 L317.19 140.63 L317.53 140.68 L317.87 140.72 L318.22 140.76 L318.56 140.80 L318.91 140.84 L319.25 140.88 L319.59 140.92 L319.94 140.96 L320.28 141.00 L320.62 141.04 L320.97 141.08 L321.31 141.12 L321.65 141.16 L322.00 141.20 L322.34 141.24 L322.68 141.27 L323.03 141.31 L323.37 141.35 L323.72 141.39 L324.06 141.42 L324.40 141.46 L324.75 141.50 L325.09 141.53 L325.43 141.57 L325.78 141.61 L326.12 141.64 L326.46 141.68 L326.81 141.71 L327.15 141.75 L327.50 141.78 L327.84 141.82 L328.18 141.85 L328.53 141.89 L328.87 141.92 L329.21 141.95 L329.56 141.99 L329.90 142.02 L330.24 142.05 L330.59 142.09 L330.93 142.12 L331.27 142.15 L331.62 142.18 L331.96 142.22 L332.31 142.25 L332.65 142.28 L332.99 142.31 L333.34 142.34 L333.68 142.37 L334.02 142.41 L334.37 142.44 L334.71 142.47 L335.05 142.50 L335.40 142.53 L335.74 142.56 L336.08 142.59 L336.43 142.62 L336.77 142.64 L337.12 142.67 L337.46 142.70 L337.80 142.73 L338.15 142.76 L338.49 142.79 L338.83 142.82 L339.18 142.84 L339.52 142.87 L339.86 142.90 L340.21 142.93 L340.55 142.95 L340.90 142.98 L341.24 143.01 L341.58 143.03 L341.93 143.06 L342.27 143.09 L342.61 143.11 L342.96 143.14 L343.30 143.16 L343.64 143.19 L343.99 143.22 L344.33 143.24 L344.67 143.27 L345.02 143.29 L345.36 143.32 L345.71 143.34 L346.05 143.36 L346.39 143.39 L346.74 143.41 L347.08 143.44 L347.42 143.46 L347.77 143.48 L348.11 143.51 L348.45 143.53 L348.80 143.55 L349.14 143.58 L349.48 143.60 L349.83 143.62 L350.17 143.64 L350.52 143.67 L350.86 143.69 L351.20 143.71 L351.55 143.73 L351.89 143.75 L352.23 143.77 L352.58 143.80 L352.92 143.82 L353.26 143.84 L353.61 143.86 L353.95 143.88 L354.30 143.90 L354.64 143.92 L354.98 143.94 L355.33 143.96 L355.67 143.98 L356.01 144.00 L356.36 144.02 L356.70 144.04 L357.04 144.06 L357.39 144.08 L357.73 144.10 L358.07 144.12 L358.42 144.14 L358.76 144.15 L359.11 144.17 L359.45 144.19 L359.79 144.21 L360.14 144.23 L360.48 144.25 L360.82 144.26 L361.17 144.28 L361.51 144.30 L361.85 144.32 L362.20 144.33 L362.54 144.35 L362.88 144.37 L363.23 144.39 L363.57 144.40 L363.92 144.42 L364.26 144.44 L364.60 144.45 L364.95 144.47 L365.29 144.48 L365.63 144.50 L365.98 144.52 L366.32 144.53 L366.66 144.55 L367.01 144.56 L367.35 144.58 L367.69 144.60 L368.04 144.61 L368.38 144.63 L368.73 144.64 L369.07 144.66 L369.41 144.67 L369.76 144.69 L370.10 144.70 L370.44 144.72 L370.79 144.73 L371.13 144.74 L371.47 144.76 L371.82 144.77 L372.16 144.79 L372.51 144.80 L372.85 144.81 L373.19 144.83 L373.54 144.84 L373.88 144.85 L374.22 144.87 L374.57 144.88 L374.91 144.89 L375.25 144.91 L375.60 144.92 L375.94 144.93 L376.28 144.95 L376.63 144.96 L376.97 144.97 L377.32 144.98 L377.66 145.00 L378.00 145.01 L378.35 145.02 L378.69 145.03 L379.03 145.05 L379.38 145.06 L379.72 145.07 L380.06 145.08 L380.41 145.09 L380.75 145.10 L381.09 145.12 L381.44 145.13 L381.78 145.14 L382.13 145.15 L382.47 145.16 L382.81 145.17 L383.16 145.18 L383.50 145.19 L383.84 145.20 L384.19 145.22 L384.53 145.23 L384.87 145.24 L385.22 145.25 L385.56 145.26 L385.91 145.27 L386.25 145.28 L386.59 145.29 L386.94 145.30 L387.28 145.31 L387.62 145.32 L387.97 145.33 L388.31 145.34 L388.65 145.35 L389.00 145.36 L389.34 145.37 L389.68 145.38 L390.03 145.39 L390.37 145.39 L390.72 145.40 L391.06 145.41 L391.40 145.42 L391.75 145.43" stroke="#0000ff" stroke-width="2.1" stroke-dasharray="6.6 2.3" stroke-dashoffset="3.9"/>
<path d="M68.20 146.50 L68.21 144.39 L68.22 143.15 L68.23 142.11 L68.24 141.18 L68.25 140.33 L68.26 139.54 L68.27 138.79 L68.28 138.08 L68.29 137.40 L68.30 136.74 L68.31 136.11 L68.32 135.50 L68.33 134.90 L68.34 134.33 L68.35 133.76 L68.36 133.22 L68.37 132.68 L68.38 132.16 L68.39 131.64 L68.40 131.14 L68.41 130.65 L68.42 130.16 L68.43 129.69 L68.44 129.22 L68.45 128.76 L68.46 128.31 L68.47 127.86 L68.48 127.42 L68.49 126.99 L68.57 124.06 L68.64 121.38 L68.71 118.88 L68.78 116.56 L68.85 114.37 L68.93 112.30 L69.00 110.34 L69.07 108.48 L69.14 106.71 L69.22 105.02 L69.29 103.41 L69.36 101.87 L69.43 100.39 L69.50 98.97 L69.58 97.61 L69.65 96.31 L69.72 95.06 L69.79 93.86 L69.86 92.70 L69.94 91.59 L70.01 90.53 L70.08 89.50 L70.15 88.51 L70.23 87.56 L70.30 86.65 L70.37 85.77 L70.44 84.93 L70.51 84.12 L70.59 83.34 L70.66 82.59 L70.73 81.87 L70.80 81.18 L70.88 80.52 L70.95 79.88 L71.02 79.27 L71.09 78.69 L71.16 78.13 L71.24 77.59 L71.31 77.08 L71.38 76.59 L71.45 76.13 L71.53 75.68 L71.60 75.26 L71.67 74.85 L71.74 74.47 L71.81 74.10 L71.89 73.76 L71.96 73.43 L72.03 73.12 L72.10 72.83 L72.18 72.56 L72.25 72.30 L72.32 72.06 L72.39 71.84 L72.46 71.63 L72.54 71.43 L72.61 71.26 L72.68 71.09 L72.75 70.95 L72.82 70.81 L72.90 70.69 L72.97 70.58 L73.04 70.49 L73.11 70.41 L73.19 70.34 L73.26 70.28 L73.33 70.24 L73.40 70.21 L73.47 70.18 L73.55 70.18 L73.62 70.18 L73.69 70.19 L73.76 70.21 L73.84 70.25 L73.91 70.29 L73.98 70.35 L74.05 70.41 L74.12 70.48 L74.20 70.57 L74.27 70.66 L74.34 70.76 L74.41 70.87 L74.49 70.99 L74.56 71.12 L74.63 71.25 L74.70 71.40 L74.77 71.55 L74.85 71.71 L74.92 71.87 L74.99 72.05 L75.06 72.23 L75.14 72.42 L75.21 72.62 L75.28 72.82 L75.35 73.03 L75.42 73.25 L75.50 73.47 L75.57 73.70 L75.64 73.93 L75.71 74.17 L75.78 74.42 L75.86 74.68 L75.93 74.93 L76.00 75.20 L76.07 75.47 L76.15 75.74 L76.22 76.02 L76.29 76.31 L76.36 76.60 L76.43 76.90 L76.51 77.20 L76.58 77.50 L76.65 77.81 L76.72 78.12 L76.80 78.44 L76.87 78.76 L76.94 79.09 L77.01 79.42 L77.08 79.76 L77.16 80.09 L77.23 80.44 L77.30 80.78 L77.37 81.13 L77.45 81.48 L77.52 81.84 L77.59 82.20 L77.66 82.56 L77.73 82.93 L77.81 83.30 L77.88 83.67 L77.95 84.04 L78.02 84.42 L78.10 84.80 L78.17 85.18 L78.24 85.57 L78.31 85.96 L78.38 86.35 L78.46 86.74 L78.53 87.14 L78.60 87.53 L78.67 87.93 L78.74 88.34 L78.82 88.74 L78.89 89.14 L78.96 89.55 L79.03 89.96 L79.11 90.37 L79.18 90.79 L79.25 91.20 L79.32 91.62 L79.39 92.04 L79.47 92.45 L79.54 92.88 L79.61 93.30 L79.68 93.72 L79.76 94.15 L79.83 94.57 L79.90 95.00 L79.97 95.43 L80.04 95.86 L80.12 96.29 L80.19 96.72 L80.26 97.15 L80.33 97.58 L80.41 98.02 L80.48 98.45 L80.55 98.89 L80.62 99.32 L80.69 99.76 L80.77 100.20 L80.84 100.64 L80.91 101.07 L80.98 101.51 L81.06 101.95 L81.13 102.39 L81.20 102.83 L81.27 103.27 L81.34 103.71 L81.42 104.15 L81.49 104.59 L81.56 105.03 L81.63 105.48 L81.70 105.92 L81.78 106.36 L81.85 106.80 L81.92 107.24 L81.99 107.68 L82.07 108.12 L82.14 108.56 L82.21 109.00 L82.28 109.44 L82.35 109.88 L82.43 110.32 L82.50 110.76 L82.57 111.20 L82.64 111.64 L82.72 112.08 L82.79 112.52 L82.86 112.96 L83.20 115.03 L83.55 117.09 L83.89 119.14 L84.23 121.17 L84.58 123.17 L84.92 125.15 L85.27 127.11 L85.61 129.04 L85.95 130.94 L86.30 132.81 L86.64 134.65 L86.98 136.46 L87.33 138.23 L87.67 139.97 L88.01 141.67 L88.36 143.33 L88.70 144.96 L89.04 146.55 L89.39 148.10 L89.73 149.61 L90.08 151.08 L90.42 152.51 L90.76 153.90 L91.11 155.25 L91.45 156.56 L91.79 157.83 L92.14 159.05 L92.48 160.24 L92.82 161.38 L93.17 162.49 L93.51 163.55 L93.85 164.57 L94.20 165.56 L94.54 166.50 L94.89 167.40 L95.23 168.27 L95.57 169.09 L95.92 169.88 L96.26 170.63 L96.60 171.34 L96.95 172.01 L97.29 172.65 L97.63 173.25 L97.98 173.81 L98.32 174.34 L98.67 174.83 L99.01 175.29 L99.35 175.72 L99.70 176.11 L100.04 176.47 L100.38 176.79 L100.73 177.09 L101.07 177.35 L101.41 177.58 L101.76 177.79 L102.10 177.96 L102.44 178.11 L102.79 178.23 L103.13 178.32 L103.48 178.38 L103.82 178.42 L104.16 178.43 L104.51 178.42 L104.85 178.38 L105.19 178.32 L105.54 178.23 L105.88 178.13 L106.22 178.00 L106.57 177.85 L106.91 177.68 L107.25 177.49 L107.60 177.28 L107.94 177.05 L108.29 176.80 L108.63 176.54 L108.97 176.26 L109.32 175.96 L109.66 175.64 L110.00 175.31 L110.35 174.97 L110.69 174.61 L111.03 174.24 L111.38 173.85 L111.72 173.45 L112.07 173.04 L112.41 172.62 L112.75 172.18 L113.10 171.74 L113.44 171.28 L113.78 170.82 L114.13 170.35 L114.47 169.86 L114.81 169.37 L115.16 168.87 L115.50 168.37 L115.84 167.85 L116.19 167.33 L116.53 166.81 L116.88 166.27 L117.22 165.74 L117.56 165.20 L117.91 164.65 L118.25 164.10 L118.59 163.54 L118.94 162.99 L119.28 162.42 L119.62 161.86 L119.97 161.30 L120.31 160.73 L120.65 160.16 L121.00 159.59 L121.34 159.02 L121.69 158.44 L122.03 157.87 L122.37 157.30 L122.72 156.72 L123.06 156.15 L123.40 155.58 L123.75 155.01 L124.09 154.44 L124.43 153.87 L124.78 153.31 L125.12 152.74 L125.46 152.18 L125.81 151.62 L126.15 151.06 L126.50 150.51 L126.84 149.96 L127.18 149.41 L127.53 148.87 L127.87 148.33 L128.21 147.79 L128.56 147.26 L128.90 146.73 L129.24 146.20 L129.59 145.69 L129.93 145.17 L130.28 144.66 L130.62 144.16 L130.96 143.66 L131.31 143.16 L131.65 142.67 L131.99 142.19 L132.34 141.71 L132.68 141.24 L133.02 140.77 L133.37 140.31 L133.71 139.86 L134.05 139.41 L134.40 138.97 L134.74 138.53 L135.09 138.10 L135.43 137.68 L135.77 137.26 L136.12 136.85 L136.46 136.45 L136.80 136.05 L137.15 135.66 L137.49 135.28 L137.83 134.90 L138.18 134.53 L138.52 134.17 L138.86 133.81 L139.21 133.46 L139.55 133.12 L139.90 132.79 L140.24 132.46 L140.58 132.14 L140.93 131.82 L141.27 131.52 L141.61 131.22 L141.96 130.93 L142.30 130.64 L142.64 130.36 L142.99 130.09 L143.33 129.83 L143.68 129.57 L144.02 129.32 L144.36 129.08 L144.71 128.84 L145.05 128.62 L145.39 128.39 L145.74 128.18 L146.08 127.97 L146.42 127.77 L146.77 127.58 L147.11 127.39 L147.45 127.21 L147.80 127.04 L148.14 126.88 L148.49 126.72 L148.83 126.57 L149.17 126.42 L149.52 126.28 L149.86 126.15 L150.20 126.02 L150.55 125.91 L150.89 125.79 L151.23 125.69 L151.58 125.59 L151.92 125.50 L152.26 125.41 L152.61 125.33 L152.95 125.25 L153.30 125.19 L153.64 125.12 L153.98 125.07 L154.33 125.02 L154.67 124.97 L155.01 124.94 L155.36 124.90 L155.70 124.88 L156.04 124.86 L156.39 124.84 L156.73 124.83 L157.08 124.83 L157.42 124.83 L157.76 124.84 L158.11 124.85 L158.45 124.87 L158.79 124.89 L159.14 124.92 L159.48 124.95 L159.82 124.99 L160.17 125.03 L160.51 125.08 L160.85 125.13 L161.20 125.19 L161.54 125.25 L161.89 125.32 L162.23 125.39 L162.57 125.46 L162.92 125.54 L163.26 125.63 L163.60 125.71 L163.95 125.81 L164.29 125.90 L164.63 126.00 L164.98 126.11 L165.32 126.22 L165.66 126.33 L166.01 126.45 L166.35 126.57 L166.70 126.69 L167.04 126.82 L167.38 126.95 L167.73 127.08 L168.07 127.22 L168.41 127.36 L168.76 127.51 L169.10 127.66 L169.44 127.81 L169.79 127.96 L170.13 128.12 L170.48 128.28 L170.82 128.44 L171.16 128.60 L171.51 128.77 L171.85 128.94 L172.19 129.12 L172.54 129.29 L172.88 129.47 L173.22 129.65 L173.57 129.83 L173.91 130.02 L174.25 130.21 L174.60 130.40 L174.94 130.59 L175.29 130.78 L175.63 130.98 L175.97 131.18 L176.32 131.38 L176.66 131.58 L177.00 131.78 L177.35 131.99 L177.69 132.20 L178.03 132.40 L178.38 132.61 L178.72 132.83 L179.06 133.04 L179.41 133.25 L179.75 133.47 L180.10 133.69 L180.44 133.90 L180.78 134.12 L181.13 134.34 L181.47 134.56 L181.81 134.79 L182.16 135.01 L182.50 135.23 L182.84 135.46 L183.19 135.69 L183.53 135.91 L183.88 136.14 L184.22 136.37 L184.56 136.60 L184.91 136.83 L185.25 137.06 L185.59 137.29 L185.94 137.52 L186.28 137.75 L186.62 137.98 L186.97 138.21 L187.31 138.45 L187.65 138.68 L188.00 138.91 L188.34 139.14 L188.69 139.38 L189.03 139.61 L189.37 139.84 L189.72 140.08 L190.06 140.31 L190.40 140.54 L190.75 140.78 L191.09 141.01 L191.43 141.24 L191.78 141.47 L192.12 141.71 L192.46 141.94 L192.81 142.17 L193.15 142.40 L193.50 142.63 L193.84 142.86 L194.18 143.09 L194.53 143.32 L194.87 143.55 L195.21 143.78 L195.56 144.01 L195.90 144.24 L196.24 144.46 L196.59 144.69 L196.93 144.91 L197.28 145.14 L197.62 145.36 L197.96 145.59 L198.31 145.81 L198.65 146.03 L198.99 146.25 L199.34 146.47 L199.68 146.69 L200.02 146.91 L200.37 147.13 L200.71 147.34 L201.05 147.56 L201.40 147.78 L201.74 147.99 L202.09 148.20 L202.43 148.41 L202.77 148.62 L203.12 148.83 L203.46 149.04 L203.80 149.25 L204.15 149.46 L204.49 149.66 L204.83 149.87 L205.18 150.07 L205.52 150.27 L205.86 150.47 L206.21 150.67 L206.55 150.87 L206.90 151.06 L207.24 151.26 L207.58 151.45 L207.93 151.65 L208.27 151.84 L208.61 152.03 L208.96 152.22 L209.30 152.41 L209.64 152.59 L209.99 152.78 L210.33 152.96 L210.67 153.14 L211.02 153.32 L211.36 153.50 L211.71 153.68 L212.05 153.86 L212.39 154.04 L212.74 154.21 L213.08 154.38 L213.42 154.55 L213.77 154.72 L214.11 154.89 L214.45 155.06 L214.80 155.22 L215.14 155.39 L215.49 155.55 L215.83 155.71 L216.17 155.87 L216.52 156.03 L216.86 156.18 L217.20 156.34 L217.55 156.49 L217.89 156.64 L218.23 156.80 L218.58 156.94 L218.92 157.09 L219.26 157.24 L219.61 157.38 L219.95 157.53 L220.30 157.67 L220.64 157.81 L220.98 157.95 L221.33 158.08 L221.67 158.22 L222.01 158.35 L222.36 158.48 L222.70 158.62 L223.04 158.74 L223.39 158.87 L223.73 159.00 L224.07 159.12 L224.42 159.25 L224.76 159.37 L225.11 159.49 L225.45 159.61 L225.79 159.73 L226.14 159.84 L226.48 159.96 L226.82 160.07 L227.17 160.18 L227.51 160.29 L227.85 160.40 L228.20 160.50 L228.54 160.61 L228.89 160.71 L229.23 160.82 L229.57 160.92 L229.92 161.02 L230.26 161.11 L230.60 161.21 L230.95 161.31 L231.29 161.40 L231.63 161.49 L231.98 161.58 L232.32 161.67 L232.66 161.76 L233.01 161.85 L233.35 161.93 L233.70 162.02 L234.04 162.10 L234.38 162.18 L234.73 162.26 L235.07 162.34 L235.41 162.41 L235.76 162.49 L236.10 162.56 L236.44 162.63 L236.79 162.71 L237.13 162.77 L237.47 162.84 L237.82 162.91 L238.16 162.98 L238.51 163.04 L238.85 163.10 L239.19 163.17 L239.54 163.23 L239.88 163.28 L240.22 163.34 L240.57 163.40 L240.91 163.45 L241.25 163.51 L241.60 163.56 L241.94 163.61 L242.29 163.66 L242.63 163.71 L242.97 163.76 L243.32 163.81 L243.66 163.85 L244.00 163.90 L244.35 163.94 L244.69 163.98 L245.03 164.02 L245.38 164.06 L245.72 164.10 L246.06 164.13 L246.41 164.17 L246.75 164.20 L247.10 164.24 L247.44 164.27 L247.78 164.30 L248.13 164.33 L248.47 164.36 L248.81 164.39 L249.16 164.42 L249.50 164.44 L249.84 164.47 L250.19 164.49 L250.53 164.51 L250.87 164.53 L251.22 164.55 L251.56 164.57 L251.91 164.59 L252.25 164.61 L252.59 164.62 L252.94 164.64 L253.28 164.65 L253.62 164.67 L253.97 164.68 L254.31 164.69 L254.65 164.70 L255.00 164.71 L255.34 164.72 L255.69 164.73 L256.03 164.73 L256.37 164.74 L256.72 164.74 L257.06 164.75 L257.40 164.75 L257.75 164.75 L258.09 164.75 L258.43 164.75 L258.78 164.75 L259.12 164.75 L259.46 164.75 L259.81 164.75 L260.15 164.74 L260.50 164.74 L260.84 164.73 L261.18 164.73 L261.53 164.72 L261.87 164.71 L262.21 164.70 L262.56 164.69 L262.90 164.68 L263.24 164.67 L263.59 164.66 L263.93 164.65 L264.27 164.63 L264.62 164.62 L264.96 164.61 L265.31 164.59 L265.65 164.57 L265.99 164.56 L266.34 164.54 L266.68 164.52 L267.02 164.50 L267.37 164.48 L267.71 164.46 L268.05 164.44 L268.40 164.42 L268.74 164.40 L269.09 164.38 L269.43 164.35 L269.77 164.33 L270.12 164.31 L270.46 164.28 L270.80 164.25 L271.15 164.23 L271.49 164.20 L271.83 164.17 L272.18 164.15 L272.52 164.12 L272.86 164.09 L273.21 164.06 L273.55 164.03 L273.90 164.00 L274.24 163.97 L274.58 163.94 L274.93 163.90 L275.27 163.87 L275.61 163.84 L275.96 163.81 L276.30 163.77 L276.64 163.74 L276.99 163.70 L277.33 163.67 L277.67 163.63 L278.02 163.60 L278.36 163.56 L278.71 163.52 L279.05 163.48 L279.39 163.45 L279.74 163.41 L280.08 163.37 L280.42 163.33 L280.77 163.29 L281.11 163.25 L281.45 163.21 L281.80 163.17 L282.14 163.13 L282.49 163.09 L282.83 163.05 L283.17 163.01 L283.52 162.96 L283.86 162.92 L284.20 162.88 L284.55 162.83 L284.89 162.79 L285.23 162.75 L285.58 162.70 L285.92 162.66 L286.26 162.61 L286.61 162.57 L286.95 162.52 L287.30 162.48 L287.64 162.43 L287.98 162.39 L288.33 162.34 L288.67 162.29 L289.01 162.25 L289.36 162.20 L289.70 162.15 L290.04 162.11 L290.39 162.06 L290.73 162.01 L291.07 161.96 L291.42 161.91 L291.76 161.86 L292.11 161.82 L292.45 161.77 L292.79 161.72 L293.14 161.67 L293.48 161.62 L293.82 161.57 L294.17 161.52 L294.51 161.47 L294.85 161.42 L295.20 161.37 L295.54 161.32 L295.88 161.27 L296.23 161.22 L296.57 161.17 L296.92 161.12 L297.26 161.07 L297.60 161.01 L297.95 160.96 L298.29 160.91 L298.63 160.86 L298.98 160.81 L299.32 160.76 L299.66 160.70 L300.01 160.65 L300.35 160.60 L300.70 160.55 L301.04 160.50 L301.38 160.44 L301.73 160.39 L302.07 160.34 L302.41 160.29 L302.76 160.23 L303.10 160.18 L303.44 160.13 L303.79 160.08 L304.13 160.02 L304.47 159.97 L304.82 159.92 L305.16 159.87 L305.51 159.81 L305.85 159.76 L306.19 159.71 L306.54 159.65 L306.88 159.60 L307.22 159.55 L307.57 159.49 L307.91 159.44 L308.25 159.39 L308.60 159.33 L308.94 159.28 L309.28 159.23 L309.63 159.18 L309.97 159.12 L310.32 159.07 L310.66 159.02 L311.00 158.96 L311.35 158.91 L311.69 158.86 L312.03 158.80 L312.38 158.75 L312.72 158.70 L313.06 158.65 L313.41 158.59 L313.75 158.54 L314.10 158.49 L314.44 158.43 L314.78 158.38 L315.13 158.33 L315.47 158.28 L315.81 158.22 L316.16 158.17 L316.50 158.12 L316.84 158.07 L317.19 158.01 L317.53 157.96 L317.87 157.91 L318.22 157.86 L318.56 157.80 L318.91 157.75 L319.25 157.70 L319.59 157.65 L319.94 157.60 L320.28 157.55 L320.62 157.49 L320.97 157.44 L321.31 157.39 L321.65 157.34 L322.00 157.29 L322.34 157.24 L322.68 157.19 L323.03 157.13 L323.37 157.08 L323.72 157.03 L324.06 156.98 L324.40 156.93 L324.75 156.88 L325.09 156.83 L325.43 156.78 L325.78 156.73 L326.12 156.68 L326.46 156.63 L326.81 156.58 L327.15 156.53 L327.50 156.48 L327.84 156.43 L328.18 156.38 L328.53 156.33 L328.87 156.28 L329.21 156.23 L329.56 156.18 L329.90 156.14 L330.24 156.09 L330.59 156.04 L330.93 155.99 L331.27 155.94 L331.62 155.89 L331.96 155.84 L332.31 155.80 L332.65 155.75 L332.99 155.70 L333.34 155.65 L333.68 155.61 L334.02 155.56 L334.37 155.51 L334.71 155.46 L335.05 155.42 L335.40 155.37 L335.74 155.32 L336.08 155.28 L336.43 155.23 L336.77 155.18 L337.12 155.14 L337.46 155.09 L337.80 155.05 L338.15 155.00 L338.49 154.95 L338.83 154.91 L339.18 154.86 L339.52 154.82 L339.86 154.77 L340.21 154.73 L340.55 154.68 L340.90 154.64 L341.24 154.60 L341.58 154.55 L341.93 154.51 L342.27 154.46 L342.61 154.42 L342.96 154.38 L343.30 154.33 L343.64 154.29 L343.99 154.25 L344.33 154.20 L344.67 154.16 L345.02 154.12 L345.36 154.08 L345.71 154.03 L346.05 153.99 L346.39 153.95 L346.74 153.91 L347.08 153.86 L347.42 153.82 L347.77 153.78 L348.11 153.74 L348.45 153.70 L348.80 153.66 L349.14 153.62 L349.48 153.58 L349.83 153.54 L350.17 153.50 L350.52 153.46 L350.86 153.42 L351.20 153.38 L351.55 153.34 L351.89 153.30 L352.23 153.26 L352.58 153.22 L352.92 153.18 L353.26 153.14 L353.61 153.10 L353.95 153.06 L354.30 153.02 L354.64 152.99 L354.98 152.95 L355.33 152.91 L355.67 152.87 L356.01 152.83 L356.36 152.80 L356.70 152.76 L357.04 152.72 L357.39 152.69 L357.73 152.65 L358.07 152.61 L358.42 152.58 L358.76 152.54 L359.11 152.50 L359.45 152.47 L359.79 152.43 L360.14 152.40 L360.48 152.36 L360.82 152.33 L361.17 152.29 L361.51 152.25 L361.85 152.22 L362.20 152.19 L362.54 152.15 L362.88 152.12 L363.23 152.08 L363.57 152.05 L363.92 152.01 L364.26 151.98 L364.60 151.95 L364.95 151.91 L365.29 151.88 L365.63 151.85 L365.98 151.81 L366.32 151.78 L366.66 151.75 L367.01 151.72 L367.35 151.68 L367.69 151.65 L368.04 151.62 L368.38 151.59 L368.73 151.56 L369.07 151.52 L369.41 151.49 L369.76 151.46 L370.10 151.43 L370.44 151.40 L370.79 151.37 L371.13 151.34 L371.47 151.31 L371.82 151.28 L372.16 151.25 L372.51 151.22 L372.85 151.19 L373.19 151.16 L373.54 151.13 L373.88 151.10 L374.22 151.07 L374.57 151.04 L374.91 151.01 L375.25 150.98 L375.60 150.95 L375.94 150.92 L376.28 150.90 L376.63 150.87 L376.97 150.84 L377.32 150.81 L377.66 150.78 L378.00 150.76 L378.35 150.73 L378.69 150.70 L379.03 150.67 L379.38 150.65 L379.72 150.62 L380.06 150.59 L380.41 150.57 L380.75 150.54 L381.09 150.51 L381.44 150.49 L381.78 150.46 L382.13 150.44 L382.47 150.41 L382.81 150.38 L383.16 150.36 L383.50 150.33 L383.84 150.31 L384.19 150.28 L384.53 150.26 L384.87 150.23 L385.22 150.21 L385.56 150.18 L385.91 150.16 L386.25 150.13 L386.59 150.11 L386.94 150.09 L387.28 150.06 L387.62 150.04 L387.97 150.02 L388.31 149.99 L388.65 149.97 L389.00 149.95 L389.34 149.92 L389.68 149.90 L390.03 149.88 L390.37 149.85 L390.72 149.83 L391.06 149.81 L391.40 149.79 L391.75 149.76" stroke="#ff0000" stroke-width="2.1" stroke-dasharray="3.1 2.4" stroke-dashoffset="5.2"/>
<path d="M68.20 147.70 V145.50" stroke="#ff0000" stroke-width="2.1"/>
</g>
<path d="M61.50 146.50 H397.60" stroke="#3c3c3c" stroke-width="1" fill="none"/>
<rect x="61.50" y="8.00" width="336.10" height="207.50" fill="none" stroke="#909090" stroke-width="0.8"/>
<g stroke="#555" stroke-width="0.7" fill="none">
<path d="M68.20 215.50 v-4.00 M68.20 8.00 v4.00"/>
<path d="M82.86 215.50 v-2.50 M82.86 8.00 v2.50"/>
<path d="M97.52 215.50 v-2.50 M97.52 8.00 v2.50"/>
<path d="M112.18 215.50 v-2.50 M112.18 8.00 v2.50"/>
<path d="M126.84 215.50 v-2.50 M126.84 8.00 v2.50"/>
<path d="M141.50 215.50 v-4.00 M141.50 8.00 v4.00"/>
<path d="M156.16 215.50 v-2.50 M156.16 8.00 v2.50"/>
<path d="M170.82 215.50 v-2.50 M170.82 8.00 v2.50"/>
<path d="M185.48 215.50 v-2.50 M185.48 8.00 v2.50"/>
<path d="M200.14 215.50 v-2.50 M200.14 8.00 v2.50"/>
<path d="M214.80 215.50 v-4.00 M214.80 8.00 v4.00"/>
<path d="M229.46 215.50 v-2.50 M229.46 8.00 v2.50"/>
<path d="M244.12 215.50 v-2.50 M244.12 8.00 v2.50"/>
<path d="M258.78 215.50 v-2.50 M258.78 8.00 v2.50"/>
<path d="M273.44 215.50 v-2.50 M273.44 8.00 v2.50"/>
<path d="M288.10 215.50 v-4.00 M288.10 8.00 v4.00"/>
<path d="M302.76 215.50 v-2.50 M302.76 8.00 v2.50"/>
<path d="M317.42 215.50 v-2.50 M317.42 8.00 v2.50"/>
<path d="M332.08 215.50 v-2.50 M332.08 8.00 v2.50"/>
<path d="M346.74 215.50 v-2.50 M346.74 8.00 v2.50"/>
<path d="M361.40 215.50 v-4.00 M361.40 8.00 v4.00"/>
<path d="M376.06 215.50 v-2.50 M376.06 8.00 v2.50"/>
<path d="M390.72 215.50 v-2.50 M390.72 8.00 v2.50"/>
<path d="M61.50 212.93 h2.50 M397.60 212.93 h-2.50"/>
<path d="M61.50 207.40 h2.50 M397.60 207.40 h-2.50"/>
<path d="M61.50 201.86 h4.00 M397.60 201.86 h-4.00"/>
<path d="M61.50 196.32 h2.50 M397.60 196.32 h-2.50"/>
<path d="M61.50 190.79 h2.50 M397.60 190.79 h-2.50"/>
<path d="M61.50 185.25 h2.50 M397.60 185.25 h-2.50"/>
<path d="M61.50 179.72 h2.50 M397.60 179.72 h-2.50"/>
<path d="M61.50 174.18 h4.00 M397.60 174.18 h-4.00"/>
<path d="M61.50 168.64 h2.50 M397.60 168.64 h-2.50"/>
<path d="M61.50 163.11 h2.50 M397.60 163.11 h-2.50"/>
<path d="M61.50 157.57 h2.50 M397.60 157.57 h-2.50"/>
<path d="M61.50 152.04 h2.50 M397.60 152.04 h-2.50"/>
<path d="M61.50 146.50 h4.00 M397.60 146.50 h-4.00"/>
<path d="M61.50 140.96 h2.50 M397.60 140.96 h-2.50"/>
<path d="M61.50 135.43 h2.50 M397.60 135.43 h-2.50"/>
<path d="M61.50 129.89 h2.50 M397.60 129.89 h-2.50"/>
<path d="M61.50 124.36 h2.50 M397.60 124.36 h-2.50"/>
<path d="M61.50 118.82 h4.00 M397.60 118.82 h-4.00"/>
<path d="M61.50 113.28 h2.50 M397.60 113.28 h-2.50"/>
<path d="M61.50 107.75 h2.50 M397.60 107.75 h-2.50"/>
<path d="M61.50 102.21 h2.50 M397.60 102.21 h-2.50"/>
<path d="M61.50 96.68 h2.50 M397.60 96.68 h-2.50"/>
<path d="M61.50 91.14 h4.00 M397.60 91.14 h-4.00"/>
<path d="M61.50 85.60 h2.50 M397.60 85.60 h-2.50"/>
<path d="M61.50 80.07 h2.50 M397.60 80.07 h-2.50"/>
<path d="M61.50 74.53 h2.50 M397.60 74.53 h-2.50"/>
<path d="M61.50 69.00 h2.50 M397.60 69.00 h-2.50"/>
<path d="M61.50 63.46 h4.00 M397.60 63.46 h-4.00"/>
<path d="M61.50 57.92 h2.50 M397.60 57.92 h-2.50"/>
<path d="M61.50 52.39 h2.50 M397.60 52.39 h-2.50"/>
<path d="M61.50 46.85 h2.50 M397.60 46.85 h-2.50"/>
<path d="M61.50 41.32 h2.50 M397.60 41.32 h-2.50"/>
<path d="M61.50 35.78 h4.00 M397.60 35.78 h-4.00"/>
<path d="M61.50 30.24 h2.50 M397.60 30.24 h-2.50"/>
<path d="M61.50 24.71 h2.50 M397.60 24.71 h-2.50"/>
<path d="M61.50 19.17 h2.50 M397.60 19.17 h-2.50"/>
<path d="M61.50 13.64 h2.50 M397.60 13.64 h-2.50"/>
<path d="M61.50 8.10 h4.00 M397.60 8.10 h-4.00"/>
</g>
<g font-size="16" fill="#000">
<text x="66.90" y="230" text-anchor="middle">0</text>
<text x="141.00" y="230" text-anchor="middle">5</text>
<text x="214.30" y="230" text-anchor="middle">10</text>
<text x="287.60" y="230" text-anchor="middle">15</text>
<text x="360.90" y="230" text-anchor="middle">20</text>
<text x="57.5" y="205.06" text-anchor="end"><tspan font-size="18" dy="1.6" stroke-width="0.1">−</tspan><tspan dy="-1.6" dx="-2.9">0.2</tspan></text>
<text x="57.5" y="177.38" text-anchor="end"><tspan font-size="18" dy="1.6" stroke-width="0.1">−</tspan><tspan dy="-1.6" dx="-2.9">0.1</tspan></text>
<text x="57.5" y="149.70" text-anchor="end">0.0</text>
<text x="57.5" y="122.02" text-anchor="end">0.1</text>
<text x="57.5" y="94.34" text-anchor="end">0.2</text>
<text x="57.5" y="66.66" text-anchor="end">0.3</text>
<text x="57.5" y="38.98" text-anchor="end">0.4</text>
<text x="57.5" y="11.30" text-anchor="end">0.5</text>
<text x="229" y="253.5" text-anchor="middle">s</text>
</g>
<g font-size="13.5" fill="#000">
<text x="323" y="26" text-anchor="middle">n</text>
<text x="344" y="44">1</text>
<text x="344" y="67">2</text>
<text x="344" y="90">3</text>
</g>
<g fill="none" stroke-width="2">
<path d="M293.9 40.7H338.0" stroke="#000"/>
<path d="M293.9 63.5H338.0" stroke="#0000ff" stroke-dasharray="6.4 2.5"/>
<path d="M293.9 86.5H336.0" stroke="#ff0000" stroke-dasharray="3.0 2.5"/>
</g>
<text transform="translate(14.4 173) rotate(-90)" font-size="16" fill="#000">(m<tspan font-size="14.5">ω</tspan><tspan dx="1">)</tspan><tspan font-size="13" dy="-6.2" dx="3.1">-</tspan><tspan font-size="11" dy="-0.4">3/4</tspan><tspan dy="6.6" dx="-0.4">R</tspan><tspan font-size="11.6" dy="2.5">l,n</tspan><tspan dy="-2.5" dx="0.8">(s)/D</tspan><tspan font-size="11.6" dy="2.5">l,n</tspan></text>
</svg>
</body></html>
